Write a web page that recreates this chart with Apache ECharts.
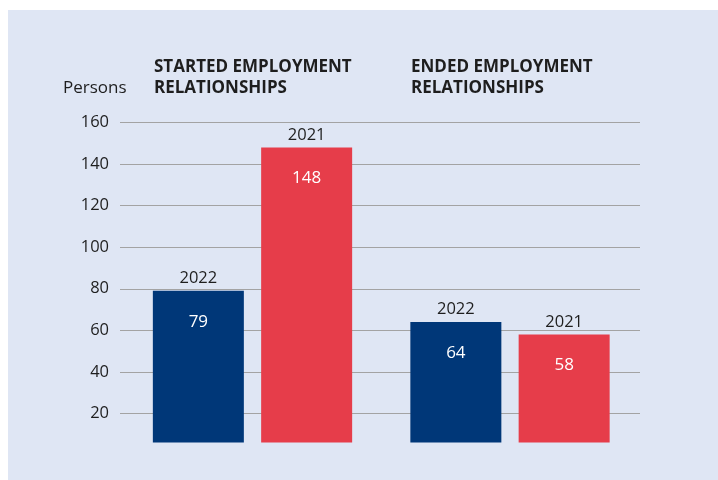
<!DOCTYPE html>
<html>
<head>
<meta charset="utf-8">
<script src="https://cdn.jsdelivr.net/npm/echarts@6/dist/echarts.min.js"></script>
<style>
  html, body { margin: 0; padding: 0; background: #fff; }
  #chart {
    width: 718px; height: 480px;
    background: linear-gradient(#dfe6f4, #dfe6f4) 8px 10px / 710px 470px no-repeat, #fff;
  }
</style>
</head>
<body>
<div id="chart"></div>
<script>
// Employment relationships started / ended, persons
const groupTitles = ['STARTED EMPLOYMENT\nRELATIONSHIPS', 'ENDED EMPLOYMENT\nRELATIONSHIPS'];
const years = ['2022', '2021'];
const values2022 = [79, 64];
const values2021 = [148, 58];
const yTicks = [20, 40, 60, 80, 100, 120, 140, 160];
const unitLabel = 'Persons';

const FONT = '"Open Sans", "Noto Sans", sans-serif';
const TEXT = '#1e1e1e';
const colors = ['#003778', '#e63d4a'];
const Y_MIN = 6, Y_MAX = 160;

function barSeries(name, data, color) {
  return {
    name: name,
    type: 'bar',
    xAxisIndex: 1,
    yAxisIndex: 1,
    data: data,
    barWidth: 91,
    barGap: '19%',
    itemStyle: { color: color },
    label: {
      show: true,
      position: ['50%', -22.5],
      align: 'center',
      verticalAlign: 'top',
      formatter: function (p) { return '{y|' + p.seriesName + '}\n{v|' + p.value + '}'; },
      rich: {
        y: { fontFamily: FONT, fontSize: 16.5, color: TEXT, lineHeight: 20, align: 'center' },
        v: { fontFamily: FONT, fontSize: 17, color: '#ffffff', lineHeight: 67, align: 'center' }
      }
    }
  };
}

const titleStyle = { fontFamily: FONT, fontSize: 17, fontWeight: 'bold', color: TEXT, lineHeight: 21.5 };

const chart = echarts.init(document.getElementById('chart'));
chart.setOption({
  animation: false,
  backgroundColor: 'transparent',
  title: [
    { text: groupTitles[0], left: 154, top: 56, padding: 0, textStyle: titleStyle },
    { text: groupTitles[1], left: 411, top: 56, padding: 0, textStyle: titleStyle },
    { text: unitLabel, left: 63, top: 77, padding: 0,
      textStyle: { fontFamily: FONT, fontSize: 17, fontWeight: 'normal', color: TEXT, lineHeight: 21.5 } }
  ],
  // grid 0 carries the value scale and its gridlines, grid 1 holds the bars
  grid: [
    { left: 120, right: 78, top: 122.7, bottom: 37.6 },
    { left: 123.75, right: 79.25, top: 122.7, bottom: 37.6 }
  ],
  xAxis: [
    { type: 'value', gridIndex: 0, min: 0, max: 1, show: false },
    {
      type: 'category',
      gridIndex: 1,
      data: groupTitles,
      axisLine: { show: false },
      axisTick: { show: false },
      axisLabel: { show: false }
    }
  ],
  yAxis: [
    {
      type: 'value',
      gridIndex: 0,
      min: Y_MIN,
      max: Y_MAX,
      axisLine: { show: false },
      axisTick: { show: false, customValues: yTicks },
      axisLabel: {
        customValues: yTicks,
        margin: 11,
        fontFamily: FONT, fontSize: 16.5, color: TEXT
      },
      splitLine: { show: true, lineStyle: { color: '#a3a3a3', width: 1 } }
    },
    {
      type: 'value',
      gridIndex: 1,
      min: Y_MIN,
      max: Y_MAX,
      show: false,
      splitLine: { show: false }
    }
  ],
  series: [
    barSeries(years[0], values2022, colors[0]),
    barSeries(years[1], values2021, colors[1])
  ]
});
</script>
</body>
</html>
